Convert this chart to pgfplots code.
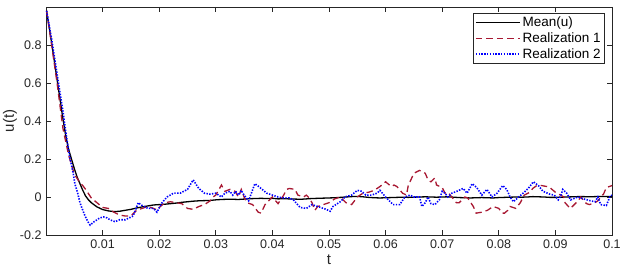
\documentclass[border=0pt]{standalone}
\usepackage{fontspec}
\setmainfont{Liberation Sans}
\usepackage{pgfplots}
\pgfplotsset{compat=1.18}
\definecolor{axgray}{RGB}{38,38,38}
\definecolor{redR}{RGB}{168,24,50}
\begin{document}
\begin{tikzpicture}
\begin{axis}[
  scale only axis,
  width=566pt, height=228pt,
  xmin=0, xmax=0.1, ymin=-0.2, ymax=1.0,
  xtick={0.01,0.02,0.03,0.04,0.05,0.06,0.07,0.08,0.09,0.1},
  xticklabels={0.01,0.02,0.03,0.04,0.05,0.06,0.07,0.08,0.09,0.1},
  ytick={-0.2,0,0.2,0.4,0.6,0.8},
  yticklabels={-0.2,0,0.2,0.4,0.6,0.8},
  scaled x ticks=false,
  tick align=inside,
  major tick length=5pt,
  axis line style={axgray, line width=0.7pt},
  every tick/.style={axgray, line width=0.7pt},
  tick label style={font=\fontsize{12.5}{14}\selectfont, text=axgray},
  xticklabel style={yshift=-1pt},
  yticklabel style={xshift=-1pt},
  xlabel={t}, ylabel={u(t)},
  label style={font=\fontsize{15}{17}\selectfont, text=axgray},
  xlabel style={yshift=0pt},
  ylabel style={yshift=-4pt},
  legend cell align=left,
  legend style={at={(1,1)}, anchor=north east, xshift=-7pt, yshift=-6pt,
    font=\fontsize{13.5}{15}\selectfont, draw=axgray, line width=0.7pt,
    inner xsep=2pt, inner ysep=1.5pt, row sep=0.5pt},
  legend image code/.code={\draw[#1] (0pt,0pt) -- (44pt,0pt);},
]
\addplot[black, line width=1.3pt] coordinates {
(0.0001,0.98)(0.001,0.81)(0.002,0.61)(0.003,0.41)(0.0035,0.32)(0.004,0.25)
(0.0045,0.2)(0.005,0.15)(0.0055,0.105)(0.006,0.07)(0.0065,0.035)(0.007,0.005)
(0.0075,-0.015)(0.008,-0.03)(0.009,-0.052)(0.010,-0.066)(0.011,-0.073)(0.012,-0.077)
(0.013,-0.075)(0.014,-0.07)(0.015,-0.065)(0.016,-0.058)(0.017,-0.052)(0.018,-0.047)(0.019,-0.042)
(0.020,-0.04)(0.021,-0.038)(0.022,-0.035)(0.023,-0.032)(0.024,-0.028)(0.025,-0.025)
(0.026,-0.022)(0.027,-0.02)(0.028,-0.019)(0.029,-0.018)(0.030,-0.015)(0.031,-0.013)
(0.032,-0.012)(0.033,-0.012)(0.034,-0.013)(0.035,-0.011)(0.036,-0.009)(0.037,-0.008)
(0.038,-0.007)(0.039,-0.008)(0.040,-0.007)(0.041,-0.01)(0.042,-0.009)(0.043,-0.01)
(0.044,-0.011)(0.045,-0.012)(0.046,-0.01)(0.047,-0.008)(0.048,-0.007)(0.049,-0.006)
(0.050,-0.005)(0.051,-0.004)(0.052,-0.002)(0.053,0.0)(0.054,0.002)(0.055,0.003)
(0.056,0.001)(0.057,-0.002)(0.058,-0.004)(0.059,-0.005)(0.060,-0.004)(0.061,-0.003)
(0.062,-0.002)(0.063,-0.001)(0.064,-0.002)(0.065,-0.001)(0.066,0.0)(0.067,0.001)
(0.068,0.0)(0.069,-0.001)(0.070,0.0)(0.071,0.001)(0.072,-0.001)(0.073,-0.003)
(0.074,-0.004)(0.075,-0.005)(0.076,-0.004)(0.077,-0.003)(0.078,-0.004)(0.079,-0.005)
(0.080,-0.003)(0.081,-0.002)(0.082,-0.001)(0.083,0.0)(0.084,-0.001)(0.085,0.0)
(0.086,0.002)(0.087,0.001)(0.088,0.0)(0.089,-0.002)(0.090,-0.002)(0.091,-0.001)
(0.092,0.0)(0.093,0.001)(0.094,0.002)(0.095,0.002)(0.096,0.001)(0.097,0.002)
(0.098,0.003)(0.099,0.003)(0.1,0.003)
};
\addlegendentry{Mean(u)}
\addplot[redR, line width=1.3pt, dash pattern=on 6.5pt off 4pt] coordinates {
(0.0001,0.98)(0.001,0.80)(0.002,0.59)(0.003,0.36)(0.004,0.22)(0.005,0.12)
(0.006,0.075)(0.0065,0.06)(0.007,0.04)(0.008,-0.005)(0.009,-0.03)(0.010,-0.055)
(0.011,-0.06)(0.012,-0.08)(0.013,-0.095)(0.014,-0.1)(0.015,-0.1)(0.016,-0.07)
(0.017,-0.06)(0.018,-0.05)(0.019,-0.06)(0.0197,-0.07)(0.020,-0.055)(0.021,-0.03)
(0.022,-0.025)(0.023,-0.03)(0.024,-0.035)(0.025,-0.06)(0.026,-0.065)(0.027,-0.05)
(0.028,-0.04)(0.029,-0.02)(0.0295,0.0)(0.030,0.01)(0.031,0.063)(0.0316,0.03)
(0.0325,0.04)(0.0334,0.03)(0.034,0.0)(0.0345,0.04)(0.035,0.0)(0.0355,-0.03)
(0.0365,-0.04)(0.0375,-0.08)(0.038,-0.085)(0.0387,-0.04)(0.039,-0.03)(0.040,0.0)
(0.041,-0.035)(0.042,0.01)(0.0425,0.04)(0.043,0.045)(0.044,0.04)(0.0445,0.01)
(0.0455,0.0)(0.046,0.01)(0.0465,-0.005)(0.047,-0.03)(0.0475,-0.07)(0.048,-0.05)
(0.049,-0.04)(0.050,-0.03)(0.051,-0.01)(0.052,0.0)(0.053,-0.03)(0.054,-0.04)
(0.055,0.0)(0.056,0.02)(0.057,0.025)(0.058,0.035)(0.059,0.055)(0.060,0.08)
(0.061,0.055)(0.0615,0.063)(0.062,0.055)(0.063,0.02)(0.0637,0.01)(0.064,0.06)
(0.065,0.125)(0.066,0.14)(0.067,0.125)(0.0675,0.09)(0.068,0.08)(0.0687,0.1)
(0.069,0.063)(0.070,0.05)(0.0705,0.02)(0.071,0.025)(0.0717,0.0)(0.0725,-0.03)
(0.073,-0.03)(0.074,0.0)(0.0745,-0.005)(0.0755,-0.05)(0.076,-0.085)(0.077,-0.08)
(0.078,-0.07)(0.079,-0.05)(0.080,-0.06)(0.0806,-0.085)(0.081,-0.085)(0.0816,-0.07)
(0.082,-0.05)(0.083,-0.06)(0.0838,-0.03)(0.0845,0.01)(0.0855,0.025)(0.086,0.045)
(0.0867,0.06)(0.0876,0.06)(0.0885,0.055)(0.089,0.05)(0.090,0.025)(0.0915,0.0)
(0.0917,-0.03)(0.0926,-0.06)(0.093,-0.05)(0.094,-0.02)(0.0945,0.0)(0.095,-0.02)
(0.0955,-0.035)(0.096,-0.04)(0.097,-0.03)(0.0975,-0.02)(0.098,0.0)(0.0985,0.015)
(0.099,0.05)(0.1,0.06)
};
\addlegendentry{Realization 1}
\addplot[blue, line width=1.6pt, dash pattern=on 1.4pt off 1.4pt] coordinates {
(0.0001,0.98)(0.001,0.83)(0.002,0.64)(0.003,0.45)(0.0037,0.3)(0.0042,0.21)
(0.0048,0.126)(0.0051,0.07)(0.0056,0.02)(0.006,-0.03)(0.0065,-0.07)(0.0069,-0.1)
(0.0074,-0.13)(0.0078,-0.148)(0.0085,-0.13)(0.0095,-0.11)(0.0102,-0.105)(0.0108,-0.11)
(0.0113,-0.12)(0.0122,-0.13)(0.013,-0.12)(0.014,-0.12)(0.0154,-0.1)(0.0163,-0.03)
(0.017,-0.045)(0.018,-0.06)(0.019,-0.06)(0.0196,-0.08)(0.0205,-0.03)(0.0214,0.0)
(0.0225,0.02)(0.0237,0.02)(0.025,0.04)(0.026,0.09)(0.027,0.045)(0.028,0.02)
(0.029,0.015)(0.030,0.02)(0.031,0.0)(0.0316,0.02)(0.0325,0.03)(0.033,0.01)
(0.0335,0.03)(0.034,0.01)(0.0345,0.035)(0.035,0.01)(0.0358,-0.02)(0.0369,0.07)
(0.0378,0.05)(0.039,0.02)(0.040,0.01)(0.041,0.0)(0.042,-0.005)(0.043,-0.005)
(0.0437,-0.015)(0.0449,-0.055)(0.046,-0.06)(0.047,-0.04)(0.048,-0.05)(0.0495,-0.065)
(0.0502,-0.075)(0.0507,-0.05)(0.052,-0.025)(0.0528,0.0)(0.054,0.01)(0.055,0.035)
(0.0558,0.03)(0.0565,0.01)(0.0575,0.01)(0.0585,0.02)(0.059,0.035)(0.060,0.0)
(0.061,-0.03)(0.0613,-0.04)(0.0625,-0.04)(0.0634,0.0)(0.0643,0.01)(0.065,0.0)
(0.066,0.0)(0.0664,-0.05)(0.067,-0.03)(0.0675,0.0)(0.068,-0.035)(0.0687,-0.04)
(0.0695,-0.015)(0.070,0.03)(0.0705,0.02)(0.071,0.0)(0.0717,0.02)(0.0726,0.03)
(0.0737,0.045)(0.0744,0.02)(0.0753,0.07)(0.0761,0.05)(0.077,0.01)(0.0779,0.04)
(0.0788,0.0)(0.0797,0.02)(0.0807,0.06)(0.0814,0.04)(0.082,0.0)(0.0826,-0.025)
(0.0835,0.0)(0.0843,0.02)(0.0852,0.045)(0.0861,0.08)(0.087,0.06)(0.0878,0.03)
(0.089,0.015)(0.0898,0.01)(0.0905,-0.015)(0.091,0.01)(0.0913,0.04)(0.092,0.02)
(0.0927,-0.015)(0.0935,-0.005)(0.094,0.0)(0.095,-0.01)(0.0962,-0.02)(0.097,-0.025)
(0.0975,0.0)(0.098,-0.04)(0.099,-0.045)(0.0996,0.0)(0.1,0.01)
};
\addlegendentry{Realization 2}
\end{axis}
\pgfresetboundingbox
\path (-46pt,-38pt) rectangle (581pt,235pt);
\end{tikzpicture}
\end{document}
